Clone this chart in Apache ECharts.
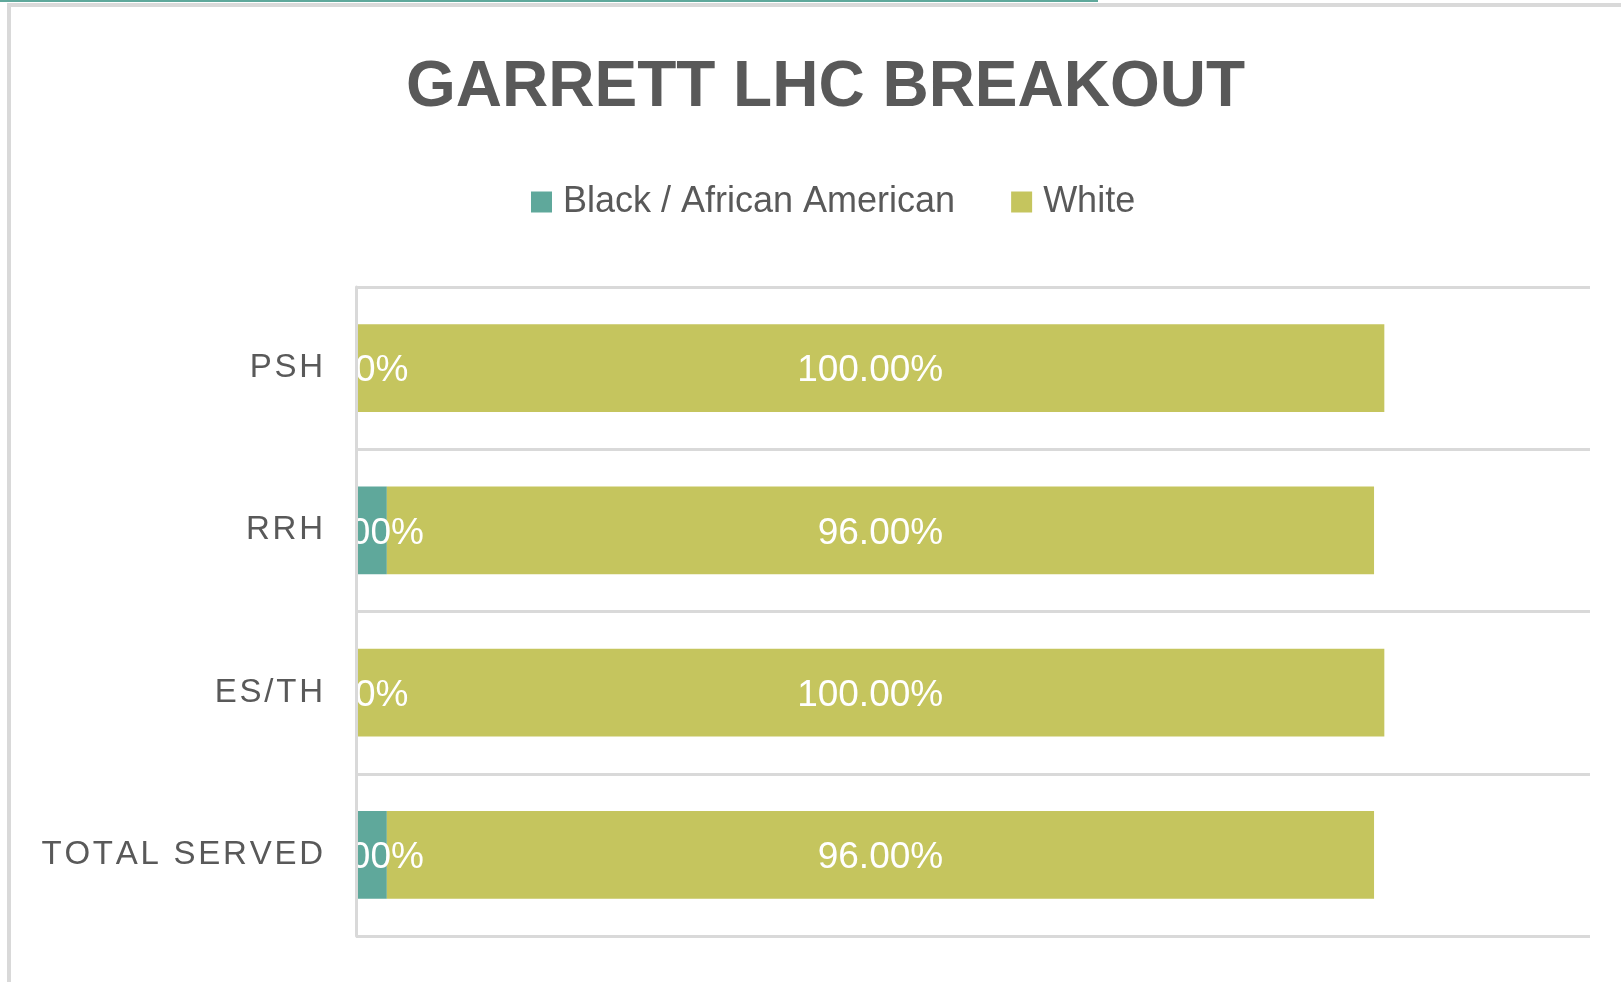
<!DOCTYPE html>
<html>
<head>
<meta charset="utf-8">
<title>Garrett LHC Breakout</title>
<script src="https://cdn.jsdelivr.net/npm/echarts@6/dist/echarts.min.js"></script>
<style>
    html, body { margin: 0; padding: 0; background: #fff; }
    #main { width: 1621px; height: 982px; }
</style>
</head>
<body>
<div id="main"></div>
<script>
    // categories, top to bottom
    var categories = ['PSH', 'RRH', 'ES/TH', 'TOTAL SERVED'];
    // share of people served
    var blackValues = [0, 0.03, 0, 0.03];
    var whiteValues = [1, 0.96, 1, 0.96];
    var seriesNames = ['Black / African American', 'White'];

    var font = 'Liberation Sans, Arial, sans-serif';
    var grey = '#595959';
    var lineGrey = '#d9d9d9';

    function pct(p){
        return (p.value * 100).toFixed(2) + '%';
    }
    //letter spaced axis labels
    function spaced(v){
        return v.split('').join('\u200A');
    }

    var myChart = echarts.init(document.getElementById('main'));
    var option = {
        backgroundColor: '#fff',
        animation: false,
        title: {
            text: 'GARRETT LHC BREAKOUT',
            left: 401,
            top: 51,
            textStyle: {
                fontFamily: font,
                fontSize: 64,
                fontWeight: 'bold',
                color: grey
            }
        },
        legend: {
            left: 526,
            top: 179,
            itemWidth: 21,
            itemHeight: 21,
            itemGap: 56,
            icon: 'rect',
            textStyle: {
                fontFamily: font,
                fontSize: 36,
                color: grey,
                padding: [0, 0, 0, 6]
            },
            data: seriesNames
        },
        grid: {
            left: 356,
            right: 31,
            top: 287,
            bottom: 46,
            containLabel: false
        },
        xAxis: {
            type: 'value',
            min: 0,
            max: 1.2,
            show: false
        },
        yAxis: {
            type: 'category',
            inverse: true,
            data: categories,
            z: 5,
            axisLine: { show: true, lineStyle: { color: lineGrey, width: 3 } },
            axisTick: { show: false },
            splitLine: { show: true, interval: 0, lineStyle: { color: lineGrey, width: 3 } },
            axisLabel: {
                margin: 33,
                fontFamily: font,
                fontSize: 33,
                color: grey,
                padding: [4, 0, 0, 0],
                formatter: spaced
            }
        },
        graphic: [
            // window frame round the chart
            { type: 'rect', shape: { x: 0, y: 0, width: 1098, height: 2 }, style: { fill: '#5fa89b' } },
            { type: 'rect', shape: { x: 7, y: 3, width: 1614, height: 4 }, style: { fill: lineGrey } },
            { type: 'rect', shape: { x: 7, y: 3, width: 4, height: 979 }, style: { fill: lineGrey } }
        ],
        series: [
            {
                name: seriesNames[0],
                type: 'bar',
                stack: 'total',
                barCategoryGap: '46%',
                data: blackValues,
                itemStyle: { color: '#5fa89b' },
                label: {
                    show: true,
                    position: 'inside',
                    offset: [0, 3],
                    color: '#fff',
                    fontFamily: font,
                    fontSize: 37,
                    formatter: pct
                }
            },
            {
                name: seriesNames[1],
                type: 'bar',
                stack: 'total',
                barCategoryGap: '46%',
                data: whiteValues,
                itemStyle: { color: '#c5c55e' },
                label: {
                    show: true,
                    position: 'inside',
                    offset: [0, 3],
                    color: '#fff',
                    fontFamily: font,
                    fontSize: 37,
                    formatter: pct
                }
            }
        ]
    };
    myChart.setOption(option);
</script>
</body>
</html>
